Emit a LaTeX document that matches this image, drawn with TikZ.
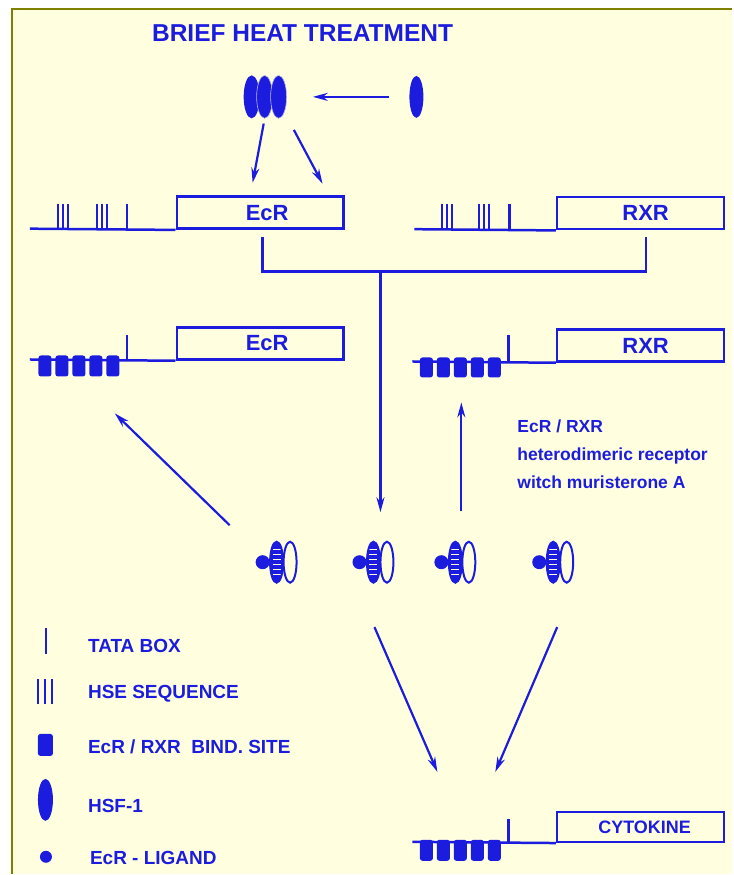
\documentclass[tikz,border=0pt]{standalone}
\usepackage{fontspec}
\setmainfont{Liberation Sans}
\usetikzlibrary{arrows.meta,shapes.geometric,positioning}
\definecolor{blueink}{RGB}{28,28,222}
\definecolor{paper}{RGB}{255,255,224}
\definecolor{olive}{RGB}{128,128,0}

\begin{document}
\begin{tikzpicture}[x=1pt, y=-1pt,
    genebox/.style={rectangle, draw=blueink, line width=2.5pt, minimum width=167pt, minimum height=32pt, inner sep=0pt, text=blueink, font=\fontsize{22}{24}\selectfont\bfseries},
    dna/.style={draw=blueink, line width=2.5pt},
    hse/.style={draw=blueink, line width=2pt},
    arrow/.style={draw=blueink, line width=2.2pt, -{Stealth[length=15pt,width=8pt]}},
    site/.style={fill=blueink, rounded corners=2.5pt},
    hsf/.style={ellipse, fill=blueink, minimum width=16pt, minimum height=43pt, inner sep=0pt},
    legend/.style={anchor=west, inner sep=0pt, text=blueink, font=\fontsize{19}{20}\selectfont\bfseries}
]

% Paper and frame
\fill[white] (0,0) rectangle (733,875);
\fill[paper] (12,9) rectangle (733,875);
\draw[olive, line width=2.5pt] (12.2,875) -- (12.2,9.2) -- (733,9.2);
\useasboundingbox (0,0) rectangle (733,875);

% Title
\node[text=blueink, font=\fontsize{24.5}{26}\selectfont\bfseries] (title) at (303,33) {BRIEF HEAT TREATMENT};

% HSF-1 trimerisation
\node[hsf] (hsfa) at (252,97) {};
\node[hsf, draw=paper!70!blueink, line width=0.6pt] (hsfb) at (265,97) {};
\node[hsf, draw=paper!70!blueink, line width=0.6pt] (hsfc) at (279,97) {};
\node[hsf, minimum width=14pt, minimum height=42pt] (hsf) at (417,97) {};
\draw[arrow, shorten <=20pt, shorten >=26pt] (hsf.west) -- (hsfc.east);

\coordinate (hit1) at (253,183);
\coordinate (hit2) at (323,184);
\draw[arrow, shorten <=5pt] (hsfb.south) -- (hit1);
\draw[arrow, shorten <=20pt] (hsfc.south east) -- (hit2);

% Genes before heat treatment
\node[genebox] (ecr1) at (260.5,213) {\hspace*{14pt}EcR};
\node[genebox] (rxr1) at (641.5,213.5) {\hspace*{10pt}RXR};
\coordinate (ecr1dna) at (30,229);
\coordinate (rxr1dna) at (415,229.5);
\draw[dna] (ecr1dna) -- (ecr1.south west);
\draw[dna] (rxr1dna) -- (rxr1.south west);
\foreach \x in {58,63,68,97,102,107} \draw[hse] (\x,229) -- (\x,204);
\foreach \x in {443,448,453,480,485,490} \draw[hse] (\x,229.5) -- (\x,204);
\draw[dna] (127,229) -- (127,204);
\draw[dna] (510,229.5) -- (510,204);

% Expression of both receptors
\coordinate (brL) at (263,237);
\coordinate (brR) at (647,237);
\coordinate (brM) at (381,272);
\coordinate (bind) at (381,513);
\draw[dna] (brL) -- ++(0,35) -| (brR);
\draw[arrow] (brM) -- (bind);

% Genes with EcR/RXR binding sites
\node[genebox] (ecr2) at (260.5,344) {\hspace*{14pt}EcR};
\node[genebox] (rxr2) at (641.5,346) {\hspace*{10pt}RXR};
\coordinate (ecr2dna) at (30,360);
\coordinate (rxr2dna) at (413,362);
\draw[dna] (ecr2dna) -- (ecr2.south west);
\draw[dna] (rxr2dna) -- (rxr2.south west);
\foreach \x in {45,62,79,96,113} \fill[site] (\x-6.5,356) rectangle (\x+6.5,377);
\foreach \x in {427,444,461,478,495} \fill[site] (\x-6.5,358) rectangle (\x+6.5,378);
\draw[dna] (127,360) -- (127,335);
\draw[dna] (509,362) -- (509,335);

% Receptor complexes with ligand
\foreach \x [count=\i] in {263,360,442,540} {
  \coordinate (cplx\i) at (\x,563);
  \begin{scope}
    \clip (\x+14,563) ellipse (6.5 and 20.5);
    \fill[blueink] (\x+14,563) ellipse (6.5 and 20.5);
    \foreach \s in {-13,-8,...,13} \draw[paper, line width=1.3pt] (\x+10,563+\s) -- (\x+18,563+\s);
  \end{scope}
  \draw[blueink, line width=2pt] (\x+14,563) ellipse (6.5 and 20.5);
  \draw[blueink, line width=2pt, fill=paper] (\x+27.5,563) ellipse (6.5 and 20.5);
  \fill[blueink] (\x,563) circle (7);
}

\coordinate (diagS) at (230,526);
\coordinate (diagE) at (115,414);
\coordinate (upS) at (462,512);
\coordinate (upE) at (462,403);
\draw[arrow] (diagS) -- (diagE);
\draw[arrow] (upS) -- (upE);

\node[anchor=north west, inner sep=0pt, align=left, text=blueink, font=\fontsize{17.5}{28}\selectfont\bfseries] (note) at (518,420) {EcR / RXR\\heterodimeric receptor\\witch muristerone A};

% Cytokine gene
\coordinate (lowS1) at (375,628);
\coordinate (lowE1) at (438,773);
\coordinate (lowS2) at (558,628);
\coordinate (lowE2) at (496,773);
\draw[arrow] (lowS1) -- (lowE1);
\draw[arrow] (lowS2) -- (lowE2);

\node[genebox, minimum height=30pt, font=\fontsize{18}{20}\selectfont\bfseries] (cyto) at (641.5,828) {\hspace*{8pt}CYTOKINE};
\coordinate (cytodna) at (413,843);
\draw[dna] (cytodna) -- (cyto.south west);
\foreach \x in {427,444,461,478,495} \fill[site] (\x-6.5,841) rectangle (\x+6.5,862);
\draw[dna] (509,843) -- (509,820);

% Legend
\draw[dna] (46,629) -- (46,655);
\node[legend] (lgtata) at (88,647) {TATA BOX};
\foreach \x in {38,45,52} \draw[dna] (\x,680) -- (\x,705);
\node[legend] (lghse) at (88,695) {HSE SEQUENCE};
\fill[site] (38,735) rectangle (53,757);
\node[legend] (lgsite) at (88,748) {EcR / RXR\ \ BIND. SITE};
\node[hsf, minimum width=15pt, minimum height=42pt] (lghsfsym) at (45.5,801) {};
\node[legend] (lghsf) at (88,807) {HSF-1};
\fill[blueink] (46,858) circle (6);
\node[legend] (lglig) at (90,859) {EcR - LIGAND};

\end{tikzpicture}
\end{document}
